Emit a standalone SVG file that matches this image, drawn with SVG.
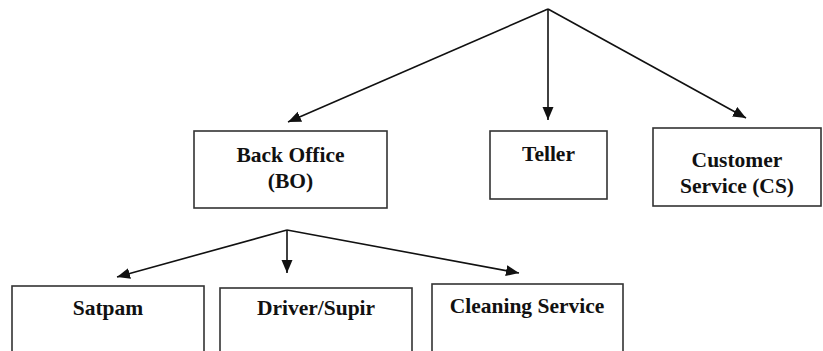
<svg xmlns="http://www.w3.org/2000/svg" width="823" height="351" viewBox="0 0 823 351">
<defs>
<marker id="ah" markerUnits="userSpaceOnUse" markerWidth="14" markerHeight="12" refX="13" refY="5.5" orient="auto">
<path d="M0,0 L13,5.5 L0,11 z" fill="#111"/>
</marker>
<style>
.box{fill:#fff;stroke:#333;stroke-width:1.6}
.lbl{font-family:"Liberation Serif","Times New Roman",serif;font-weight:bold;font-size:21.5px;fill:#111;text-anchor:middle}
.con{stroke:#111;stroke-width:1.6;fill:none;marker-end:url(#ah)}
</style>
</defs>
<rect width="823" height="351" fill="#fff"/>
<g id="connectors">
<line class="con" x1="548" y1="9" x2="288" y2="122"/>
<line class="con" x1="548" y1="9" x2="548" y2="120"/>
<line class="con" x1="548" y1="9" x2="746" y2="118"/>
<line class="con" x1="287" y1="230" x2="117" y2="277"/>
<line class="con" x1="287" y1="230" x2="287" y2="273"/>
<line class="con" x1="287" y1="230" x2="519" y2="273"/>
</g>
<g id="back-office">
<rect class="box" x="194" y="131" width="193" height="77"/>
<text class="lbl" x="290.5" y="162">Back Office</text>
<text class="lbl" x="290.5" y="188">(BO)</text>
</g>
<g id="teller">
<rect class="box" x="490" y="131" width="117" height="68"/>
<text class="lbl" x="548.5" y="161">Teller</text>
</g>
<g id="customer-service">
<rect class="box" x="653" y="128" width="168" height="78"/>
<text class="lbl" x="737" y="167">Customer</text>
<text class="lbl" x="737" y="193">Service (CS)</text>
</g>
<g id="satpam">
<rect class="box" x="12" y="286" width="192" height="80"/>
<text class="lbl" x="108" y="315">Satpam</text>
</g>
<g id="driver-supir">
<rect class="box" x="220" y="288" width="192" height="80"/>
<text class="lbl" x="316" y="315">Driver/Supir</text>
</g>
<g id="cleaning-service">
<rect class="box" x="432" y="284" width="191" height="80"/>
<text class="lbl" x="527" y="313">Cleaning Service</text>
</g>
</svg>
